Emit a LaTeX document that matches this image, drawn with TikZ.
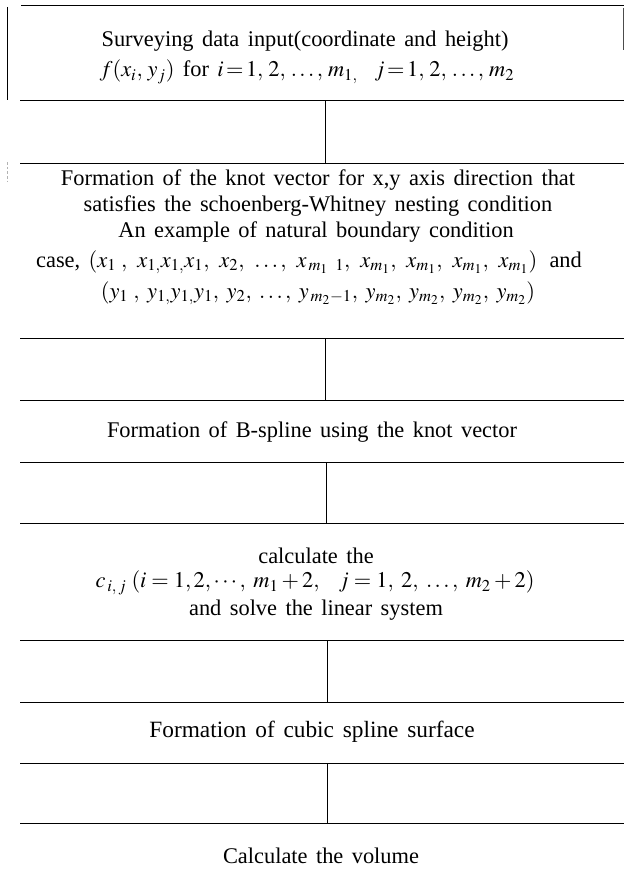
\documentclass[tikz,border=0pt]{standalone}
\usepackage{mathptmx}
\usepackage{fontspec}
\setmainfont{Liberation Serif}[WordSpace=1.5]
\begin{document}
\begin{tikzpicture}[x=0.75pt,y=-0.75pt,
  rule/.style={line width=0.75pt, black},
  conn/.style={line width=0.75pt, black},
  txt/.style={font=\fontsize{16.8}{20}\selectfont, inner sep=0pt, anchor=center}]
\useasboundingbox (0,0) rectangle (624,881);
% ---- box 1 frame
\draw[rule] (21,6) -- (624,6);
\draw[rule] (7,7) -- (7,100);
\draw[rule, black!70] (623,8) -- (623,50);
\draw[rule] (20,100) -- (624,100);
\draw[gray!60, line width=0.5pt, dash pattern=on 2pt off 1.5pt] (7,162) -- (7,182);
% ---- horizontal rules
\draw[rule] (20,163) -- (624,163);
\draw[rule] (20,338) -- (624,338);
\draw[rule] (20,400) -- (624,400);
\draw[rule] (20,462) -- (624,462);
\draw[rule] (20,523) -- (624,523);
\draw[rule] (20,640) -- (624,640);
\draw[rule] (20,702) -- (624,702);
\draw[rule] (20,763) -- (624,763);
\draw[rule] (20,823) -- (624,823);
% ---- connector end points
\coordinate (a1) at (325,100); \coordinate (a2) at (325,163);
\coordinate (b1) at (325,338); \coordinate (b2) at (325,400);
\coordinate (c1) at (326,462); \coordinate (c2) at (326,523);
\coordinate (d1) at (327,640); \coordinate (d2) at (327,702);
\coordinate (e1) at (327,763); \coordinate (e2) at (327,823);
\draw[conn] (a1) -- (a2);
\draw[conn] (b1) -- (b2);
\draw[conn] (c1) -- (c2);
\draw[conn] (d1) -- (d2);
\draw[conn] (e1) -- (e2);
% ---- texts
\node[txt] (s1) at (305,41) {Surveying data input(coordinate and height)};
\node[txt] (s2) at (307,72) {$f(x_i,\, y_j)$ for $i\!=\!1,\, 2,\, \ldots,\, m_{1,}$\ \ $j\!=\!1,\, 2,\, \ldots,\, m_2$};
\node[txt] (k1) at (318,180) {Formation of the knot vector for x,y axis direction that};
\node[txt] (k2) at (318,206) {satisfies the schoenberg-Whitney nesting condition};
\node[txt] (k3) at (316,232) {An example of natural boundary condition};
\node[txt] (k4) at (309,262) {case, $(x_1\;,\;\, x_{1,}x_{1,}x_1,\;\, x_2,\;\, \ldots,\;\, x_{\,m_1\;\;1},\;\, x_{m_1},\;\, x_{m_1},\;\, x_{m_1},\;\, x_{m_1})$\, and};
\node[txt] (k5) at (318,293) {$(y_1\;,\; y_{1,}y_{1,}y_1,\; y_2,\; \ldots,\; y_{\,m_2-1},\; y_{m_2},\; y_{m_2},\; y_{m_2},\; y_{m_2})$};
\node[txt] (bs) at (312,432) {Formation of B-spline using the knot vector};
\node[txt] (c1t) at (316,556) {calculate the};
\node[txt] (c2t) at (315,583) {$c_{\,i,\,j}\;(i=1,2,\cdots,\; m_1+2,\ \ j=1,\; 2,\; \ldots,\; m_2+2)$};
\node[txt] (c3t) at (316,610) {and solve the linear system};
\node[txt,font=\fontsize{17.5}{20}\selectfont] (cs) at (312,732) {Formation of cubic spline surface};
\node[txt] (cv) at (321,856) {Calculate the volume};
\end{tikzpicture}
\end{document}
